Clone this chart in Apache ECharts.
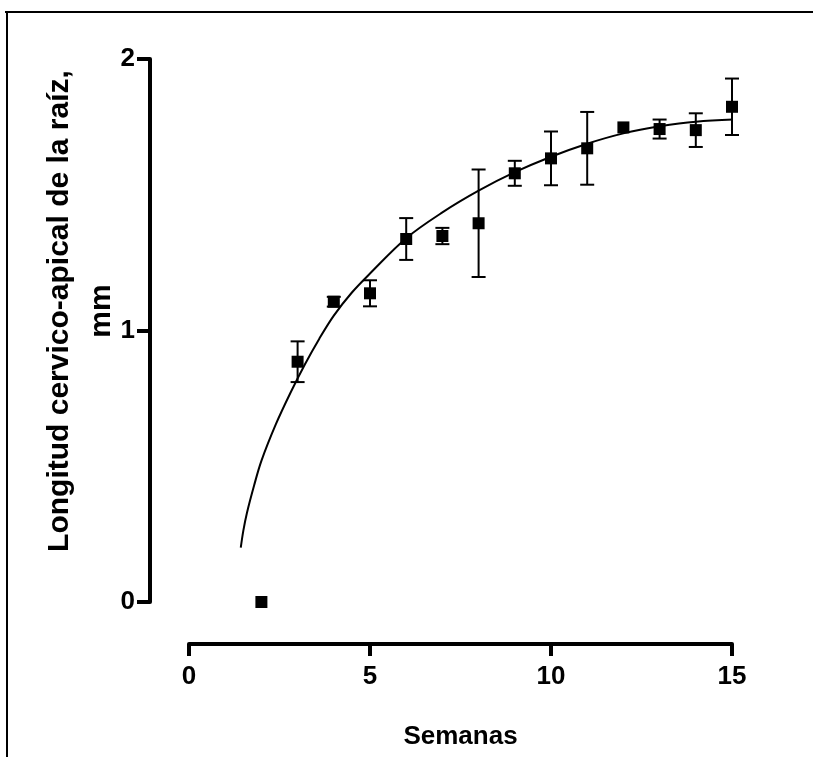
<!DOCTYPE html>
<html><head><meta charset="utf-8">
<script src="https://cdn.jsdelivr.net/npm/echarts/dist/echarts.min.js"></script>
<style>html,body{margin:0;padding:0;background:#fff}#c{width:813px;height:757px}</style>
</head><body><div id="c"></div>
<script>
// Data
const weeks = [2, 3, 4, 5, 6, 7, 8, 9, 10, 11, 12, 13, 14, 15];
const meanLength = [0.00, 0.885, 1.106, 1.137, 1.337, 1.348, 1.395, 1.579, 1.634, 1.671, 1.748, 1.742, 1.738, 1.824];
const errLength = [0.00, 0.075, 0.018, 0.048, 0.077, 0.030, 0.198, 0.046, 0.099, 0.134, 0.00, 0.035, 0.062, 0.104];
const fitX = [1.43, 1.50, 1.60, 1.80, 2.00, 2.40, 2.80, 3.20, 3.60, 4.00, 4.50, 5.00, 6.00, 7.00, 8.00, 9.00, 10.00, 11.00, 12.00, 13.00, 14.00, 15.45];
const fitY = [0.200, 0.262, 0.328, 0.430, 0.520, 0.655, 0.770, 0.875, 0.970, 1.055, 1.140, 1.210, 1.340, 1.435, 1.515, 1.583, 1.640, 1.688, 1.726, 1.752, 1.769, 1.779];
const xTicks = [0, 5, 10, 15];
const yTicks = [0, 1, 2];
const xTitle = 'Semanas';
const yTitle = 'Longitud cervico-apical de la raíz,\nmm';

const FONT = '"Liberation Sans", Arial, Helvetica, sans-serif';
const chart = echarts.init(document.getElementById('c'), null, {renderer: 'canvas'});

const points = weeks.map((w, i) => [w, meanLength[i]]);
const bars = weeks.map((w, i) => [w, meanLength[i], errLength[i]]);
const fit = fitX.map((x, i) => [x, fitY[i]]);

chart.setOption({
  backgroundColor: '#fff',
  animation: false,
  grid: {left: 189, right: 81, top: 59, bottom: 155},
  xAxis: {
    type: 'value', min: xTicks[0], max: xTicks[xTicks.length - 1], interval: 5,
    offset: 42,
    axisLine: {onZero: false, lineStyle: {color: '#000', width: 4}},
    axisTick: {show: true, length: 12, lineStyle: {color: '#000', width: 4}},
    axisLabel: {color: '#000', fontSize: 26, fontWeight: 'bold', fontFamily: FONT, margin: 20},
    splitLine: {show: false},
    name: xTitle, nameLocation: 'middle', nameGap: 80,
    nameTextStyle: {color: '#000', fontSize: 26, fontWeight: 'bold', fontFamily: FONT}
  },
  yAxis: {
    type: 'value', min: yTicks[0], max: yTicks[yTicks.length - 1], interval: 1,
    offset: 39,
    axisLine: {onZero: false, lineStyle: {color: '#000', width: 4}},
    axisTick: {show: true, length: 13, lineStyle: {color: '#000', width: 4}},
    axisLabel: {color: '#000', fontSize: 26, fontWeight: 'bold', fontFamily: FONT, margin: 15},
    splitLine: {show: false}
  },
  graphic: [
    {type: 'line', shape: {x1: 5, y1: 12, x2: 813, y2: 12}, style: {stroke: '#000', lineWidth: 2}},
    {type: 'line', shape: {x1: 7, y1: 12, x2: 7, y2: 757}, style: {stroke: '#000', lineWidth: 2}},
    {type: 'text', x: 81, y: 311, rotation: Math.PI / 2,
     style: {text: yTitle, fontSize: 30, fontWeight: 'bold', fontFamily: FONT,
             align: 'center', verticalAlign: 'middle', lineHeight: 42, fill: '#000'}}
  ],
  series: [
    {
      type: 'line', data: fit, smooth: 0.35, showSymbol: false, symbol: 'none', clip: false,
      lineStyle: {color: '#000', width: 2}, z: 2
    },
    {
      type: 'custom', data: bars, z: 3, clip: false,
      renderItem: function (params, api) {
        const x = api.value(0), m = api.value(1), e = api.value(2);
        if (!e) return null;
        const top = api.coord([x, m + e]);
        const bot = api.coord([x, m - e]);
        const hw = 7;
        const st = {stroke: '#000', lineWidth: 2};
        return {type: 'group', children: [
          {type: 'line', shape: {x1: top[0], y1: top[1], x2: bot[0], y2: bot[1]}, style: st},
          {type: 'line', shape: {x1: top[0] - hw, y1: top[1], x2: top[0] + hw, y2: top[1]}, style: st},
          {type: 'line', shape: {x1: bot[0] - hw, y1: bot[1], x2: bot[0] + hw, y2: bot[1]}, style: st}
        ]};
      }
    },
    {
      type: 'scatter', data: points, symbol: 'rect', symbolSize: 12, clip: false,
      itemStyle: {color: '#000', opacity: 1}, z: 4
    }
  ]
});
</script>
</body></html>
